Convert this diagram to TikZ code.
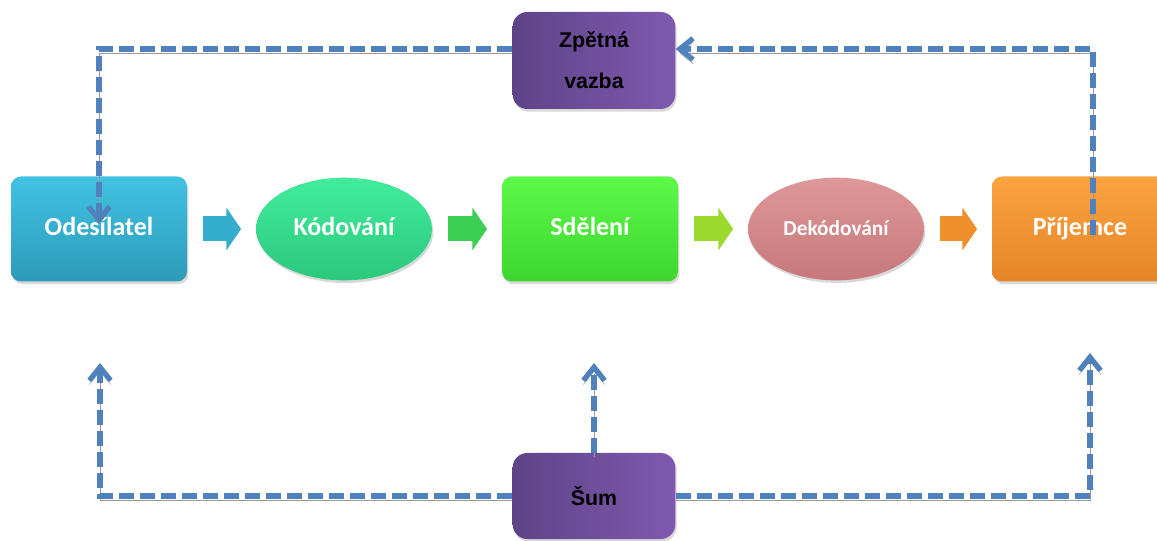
\documentclass[tikz,border=0pt]{standalone}
\usepackage{fontspec}
\setmainfont{Carlito}
\newfontfamily\arialfont{Liberation Sans}
\usetikzlibrary{shapes.geometric,arrows.meta,shadows}
\definecolor{carmodra}{HTML}{4F81BD}
\definecolor{fialtm}{HTML}{5E4387}
\definecolor{fialsv}{HTML}{8059AE}
\begin{document}
\begin{tikzpicture}[x=0.75pt,y=-0.75pt,
  stin/.style={drop shadow={opacity=0.3,shadow xshift=1pt,shadow yshift=-2pt}},
  blok/.style={stin,rounded corners=7.5pt,minimum width=132pt,minimum height=78.75pt,
    text height=14pt,text depth=3.5pt,
    text=white,font=\bfseries\fontsize{19.5}{22}\selectfont},
  elipsa/.style={stin,ellipse,minimum width=132pt,minimum height=77pt,
    text height=14pt,text depth=3.5pt,
    text=white,font=\bfseries\fontsize{19.5}{22}\selectfont},
  fialovy/.style={stin,rounded corners=11pt,left color=fialtm,right color=fialsv,
    minimum width=122pt,align=center,font=\arialfont\bfseries\fontsize{16}{30.75}\selectfont},
  sipka/.style={line width=18.75pt,-{Triangle[length=11pt,width=31.5pt]},
    shorten <=12pt,shorten >=11pt},
  car/.style={carmodra,line width=3.9pt,dash pattern=on 11.25pt off 4.5pt,
    -{Straight Barb[length=10pt,width=16pt]},
    preaction={draw=black!40,transform canvas={yshift=-3pt}}}]
\useasboundingbox (0,0) rectangle (1157,541);
%Bloky
  \node[blok,top color={rgb,255:red,66;green,194;blue,227},bottom color={rgb,255:red,44;green,155;blue,184}]
    (odes) at (99,229) {Odesílatel};
  \node[elipsa,top color={rgb,255:red,66;green,236;blue,156},bottom color={rgb,255:red,44;green,200;blue,124}]
    (kod) at (344,229) {Kódování};
  \node[blok,top color={rgb,255:red,92;green,248;blue,74},bottom color={rgb,255:red,62;green,214;blue,46}]
    (sdel) at (590,229) {Sdělení};
  \node[elipsa,font=\bfseries\fontsize{16}{18}\selectfont,
    top color={rgb,255:red,222;green,152;blue,153},bottom color={rgb,255:red,198;green,120;blue,122}]
    (dekod) at (836,229) {Dekódování};
  \node[blok,top color={rgb,255:red,251;green,164;blue,64},bottom color={rgb,255:red,230;green,132;blue,40}]
    (prij) at (1080,229) {Příjemce};
  \node[fialovy,minimum height=72.75pt] (zpet) at (594,60.5) {Zpětná\\vazba};
  \node[fialovy,minimum height=64.5pt] (sum) at (594,496) {Šum};
%Šipky
  \draw[sipka,color={rgb,255:red,53;green,173;blue,205}] (odes.east) -- (kod.west);
  \draw[sipka,color={rgb,255:red,60;green,207;blue,84}] (kod.east) -- (sdel.west);
  \draw[sipka,color={rgb,255:red,155;green,217;blue,47}] (sdel.east) -- (dekod.west);
  \draw[sipka,color={rgb,255:red,238;green,143;blue,44}] (dekod.east) -- (prij.west);
%Zpětná vazba
  \coordinate (vrch) at (0,49);
  \coordinate (prijin) at (1093,235);
  \coordinate (odesin) at (99,224);
  \draw[car] (prijin) |- (zpet.east |- vrch);
  \draw[car] (zpet.west |- vrch) -| (odesin);
%Šum
  \coordinate (suml) at (100,363);
  \coordinate (sumr) at (1090,353);
  \coordinate (summ) at (594,363);
  \draw[car] (sum.west) -| (suml);
  \draw[car] (sum.east) -| (sumr);
  \draw[car] (sum.north) -- (summ);
\end{tikzpicture}
\end{document}
